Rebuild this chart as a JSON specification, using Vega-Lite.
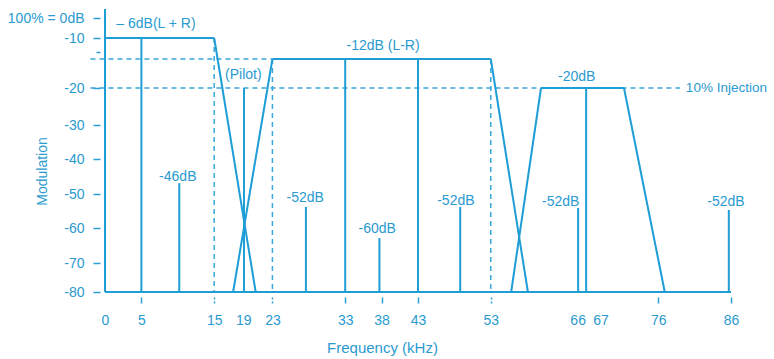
{
  "$schema": "https://vega.github.io/schema/vega-lite/v6.json",
  "width": 626,
  "height": 283,
  "autosize": {"type": "none"},
  "padding": {"left": 105, "top": 9, "right": 43, "bottom": 67},
  "background": "white",
  "config": {"view": {"stroke": null}, "font": "Liberation Sans"},
  "datasets": {
    "solid": [
      {"f": 0, "db": -80, "f2": 0, "db2": 3},
      {"f": 0, "db": -10, "f2": 15, "db2": -10},
      {"f": 15, "db": -10, "f2": 20.7, "db2": -80},
      {"f": 0, "db": -80, "f2": 86, "db2": -80},
      {"f": 5, "db": -80, "f2": 5, "db2": -10},
      {"f": 10.2, "db": -80, "f2": 10.2, "db2": -46.9},
      {"f": 19.1, "db": -80, "f2": 19.1, "db2": -20},
      {"f": 17.6, "db": -80, "f2": 23, "db2": -14.2},
      {"f": 23, "db": -14.2, "f2": 53, "db2": -14.2},
      {"f": 27.6, "db": -80, "f2": 27.6, "db2": -53.8},
      {"f": 33, "db": -80, "f2": 33, "db2": -14.2},
      {"f": 37.7, "db": -80, "f2": 37.7, "db2": -62.9},
      {"f": 43, "db": -80, "f2": 43, "db2": -14.2},
      {"f": 48.8, "db": -80, "f2": 48.8, "db2": -53.8},
      {"f": 53, "db": -14.2, "f2": 58.1, "db2": -80},
      {"f": 55.8, "db": -80, "f2": 59.9, "db2": -20},
      {"f": 59.9, "db": -20, "f2": 71.3, "db2": -20},
      {"f": 71.3, "db": -20, "f2": 76.9, "db2": -80},
      {"f": 65, "db": -80, "f2": 65, "db2": -54.1},
      {"f": 66.1, "db": -80, "f2": 66.1, "db2": -20},
      {"f": 85.7, "db": -80, "f2": 85.7, "db2": -54.7}
    ],
    "dashed": [
      {"f": -2, "db": -14.2, "f2": 23, "db2": -14.2},
      {"f": -2, "db": -20, "f2": 79, "db2": -20},
      {"f": 15, "db": -10, "f2": 15, "db2": -80},
      {"f": 23, "db": -14.2, "f2": 23, "db2": -80},
      {"f": 53, "db": -14.2, "f2": 53, "db2": -80}
    ],
    "labels": [
      {"f": 7.0, "db": -3, "label": "– 6dB(L + R)"},
      {"f": 19.0, "db": -17.4, "label": "(Pilot)"},
      {"f": 38.2, "db": -11.6, "label": "-12dB (L-R)"},
      {"f": 10.0, "db": -45.1, "label": "-46dB"},
      {"f": 27.5, "db": -51.2, "label": "-52dB"},
      {"f": 37.4, "db": -60.3, "label": "-60dB"},
      {"f": 48.2, "db": -52.1, "label": "-52dB"},
      {"f": 64.8, "db": -17.8, "label": "-20dB"},
      {"f": 62.6, "db": -52.4, "label": "-52dB"},
      {"f": 85.3, "db": -52.4, "label": "-52dB"}
    ],
    "note": [
      {"f": 79.8, "db": -20, "label": "10% Injection"}
    ]
  },
  "layer": [
    {
      "data": {"name": "dashed"},
      "mark": {"type": "rule", "strokeDash": [5, 4], "strokeWidth": 1.5, "color": "#3aa7dc"},
      "encoding": {
        "x": {
          "field": "f", "type": "quantitative",
          "scale": {"domain": [0, 86], "nice": false, "zero": false},
          "axis": {
            "values": [0, 5, 15, 19, 23, 33, 38, 43, 53, 66, 67, 76, 86],
            "tickCount": 30,
            "format": "d",
            "domain": false, "grid": false, "offset": 5,
            "tickSize": 6, "tickWidth": 1.5, "tickColor": "#2a9fd6",
            "tickOpacity": {"condition": {"test": "datum.value == 0 || datum.value == 19 || datum.value == 66 || datum.value == 67", "value": 0}, "value": 1},
            "tickDash": {"condition": {"test": "datum.value == 15 || datum.value == 23 || datum.value == 53", "value": [2, 2]}, "value": []},
            "labelAlign": {"condition": [{"test": "datum.value == 66", "value": "right"}, {"test": "datum.value == 67", "value": "left"}], "value": "center"},
            "labelPadding": 10, "labelFontSize": 14, "labelColor": "#2a9ad0",
            "labelFlush": false, "labelOverlap": false,
            "title": "Frequency (kHz)", "titleFontSize": 15, "titleFontWeight": "normal", "titleColor": "#2a9ad0",
            "titleX": 277, "titleY": 50, "titleBaseline": "middle", "titleAlign": "center"
          }
        },
        "x2": {"field": "f2"},
        "y": {
          "field": "db", "type": "quantitative",
          "scale": {"domain": [-80, -70, -60, -50, -40, -30, -20, -10, 0, 3], "range": [283, 254, 219, 185, 150, 116, 79, 29, 9, 0], "nice": false, "zero": false},
          "axis": {
            "values": [0, -10, -12.8, -20, -30, -40, -50, -60, -70, -80],
            "tickCount": 30,
            "labelExpr": "datum.value == 0 ? '100% = 0dB' : datum.value == -12.8 ? '' : '' + datum.value",
            "domain": false, "grid": false, "offset": 5,
            "tickSize": {"condition": {"test": "datum.value == -12.8", "value": 4}, "value": 7},
            "tickWidth": 1.5, "tickColor": "#2a9fd6",
            "labelPadding": 9, "labelFontSize": 14, "labelColor": "#2a9ad0", "labelOverlap": false, "labelFlush": false,
            "title": "Modulation", "titleFontSize": 14, "titleFontWeight": "normal", "titleColor": "#2a9ad0",
            "titleX": -58, "titleY": 162, "titleAngle": -90, "titleAlign": "center", "titleBaseline": "middle"
          }
        },
        "y2": {"field": "db2"}
      }
    },
    {
      "data": {"name": "solid"},
      "mark": {"type": "rule", "strokeWidth": 2, "color": "#1e9dd6"},
      "encoding": {
        "x": {"field": "f", "type": "quantitative"},
        "x2": {"field": "f2"},
        "y": {"field": "db", "type": "quantitative"},
        "y2": {"field": "db2"}
      }
    },
    {
      "data": {"name": "labels"},
      "mark": {"type": "text", "fontSize": 14, "color": "#2a9ad0", "align": "center", "baseline": "middle"},
      "encoding": {
        "x": {"field": "f", "type": "quantitative"},
        "y": {"field": "db", "type": "quantitative"},
        "text": {"field": "label"}
      }
    },
    {
      "data": {"name": "note"},
      "mark": {"type": "text", "fontSize": 13.5, "color": "#2a9ad0", "align": "left", "baseline": "middle"},
      "encoding": {
        "x": {"field": "f", "type": "quantitative"},
        "y": {"field": "db", "type": "quantitative"},
        "text": {"field": "label"}
      }
    }
  ]
}
